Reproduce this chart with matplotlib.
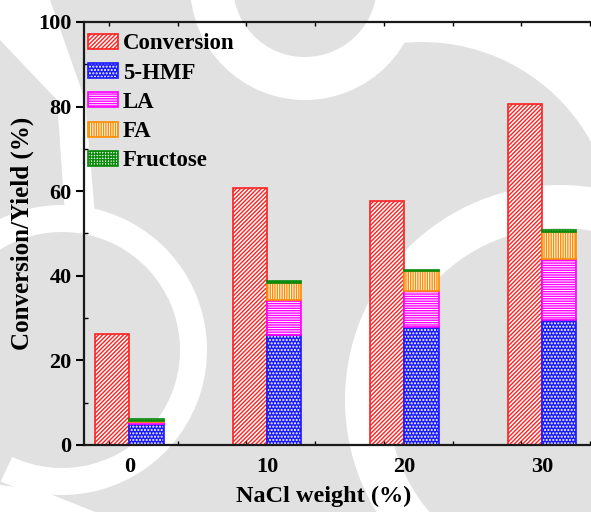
import matplotlib
matplotlib.use('Agg')
import matplotlib.pyplot as plt
from matplotlib.patches import Wedge, Polygon, Circle, Patch
import numpy as np

# NaCl loading and product distribution (%)
nacl = ['0', '10', '20', '30']
conversion = [26.2, 60.7, 57.6, 80.5]
hmf = [5.0, 25.9, 27.9, 29.5]
la = [0.4, 8.3, 8.6, 14.4]
fa = [0.2, 4.2, 4.6, 6.5]
fructose = [0.5, 0.4, 0.3, 0.4]

plt.rcParams['font.family'] = 'Liberation Serif'
plt.rcParams['font.weight'] = 'bold'
plt.rcParams['hatch.linewidth'] = 1.0

W, H = 591, 512
GRAY = '#e1e1e1'
fig = plt.figure(figsize=(W / 100, H / 100), dpi=100)
fig.patch.set_facecolor(GRAY)

# light watermark rings behind the plot, in pixel units
bg = fig.add_axes([0, 0, 1, 1], zorder=-1)
bg.set_xlim(0, W)
bg.set_ylim(H, 0)
bg.axis('off')
bg.add_patch(Wedge((422, 235), 420, -125, -15, width=227, color='white', lw=0))
bg.add_patch(Wedge((305, -15), 115, 0, 360, width=43, color='white', lw=0))
bg.add_patch(Circle((305, -15), 72, color=GRAY, lw=0))
bg.add_patch(Wedge((560, 400), 215, 0, 360, width=43, color='white', lw=0))
bg.add_patch(Wedge((62, 350), 145, -200, 115, width=27, color='white', lw=0))
bg.add_patch(Polygon([(0, 0), (50, 0), (85, 100), (95, 215), (65, 215), (57, 100), (0, 40)],
                     color='white', lw=0))
bg.add_patch(Polygon([(0, 485), (40, 490), (95, 512), (0, 512)], color='white', lw=0))

ax = fig.add_axes([84 / W, 1 - 445 / H, 513 / W, 423 / H])
ax.patch.set_alpha(0)

x = np.arange(len(nacl))
w = 0.25
red, blue, mag, orange, green = '#ff2020', '#1a1aff', '#ff00ff', '#ff8c00', '#0a8a0a'
h_conv, h_hmf, h_la, h_fa, h_fru = '////////', '.....', '-------', '|||||||', '++++++'

ax.bar(x - w, conversion, w, align='edge', facecolor='white', edgecolor=red,
       hatch=h_conv, linewidth=1.2)

b1 = np.array(hmf)
b2 = b1 + np.array(la)
b3 = b2 + np.array(fa)
ax.bar(x, hmf, w, align='edge', facecolor=blue, edgecolor='white', hatch=h_hmf, linewidth=0)
ax.bar(x, hmf, w, align='edge', fill=False, edgecolor=blue, linewidth=1.2)
ax.bar(x, la, w, bottom=b1, align='edge', facecolor='white', edgecolor=mag,
       hatch=h_la, linewidth=1.2)
ax.bar(x, fa, w, bottom=b2, align='edge', facecolor='white', edgecolor=orange,
       hatch=h_fa, linewidth=1.2)
ax.bar(x, fructose, w, bottom=b3, align='edge', facecolor='white', edgecolor=green,
       hatch=h_fru, linewidth=1.2)

ax.set_xlim(-0.33, 3.4)
ax.set_ylim(0, 100)
ax.set_xticks(x)
ax.set_xticklabels(nacl)
ax.set_yticks(np.arange(0, 101, 20))
ax.set_yticks(np.arange(10, 100, 20), minor=True)
ax.set_xticks(np.arange(-0.15, 3.4, 0.5), minor=True)
ax.tick_params(axis='x', which='major', length=0, pad=9, labelsize=16)
ax.tick_params(axis='x', which='minor', direction='in', length=3, top=True, width=1)
ax.tick_params(axis='y', which='major', direction='out', length=6, width=1.5, labelsize=16, pad=3)
ax.tick_params(axis='y', which='minor', direction='in', length=3, width=1)
for s in ['left', 'bottom', 'top']:
    ax.spines[s].set_linewidth(1.6)
    ax.spines[s].set_color('#1a1a1a')
ax.spines['right'].set_visible(False)

ax.set_xlabel('NaCl weight (%)', fontsize=17.5, fontweight='bold')
ax.xaxis.set_label_coords(0.468, -0.097)
ax.set_ylabel('Conversion/Yield (%)', fontsize=18, fontweight='bold')
ax.yaxis.set_label_coords(-0.097, 0.5)

handles = [
    Patch(facecolor='white', edgecolor=red, hatch=h_conv, linewidth=1.2),
    (Patch(facecolor=blue, edgecolor='white', hatch=h_hmf, linewidth=0),
     Patch(fill=False, edgecolor=blue, linewidth=1.2)),
    Patch(facecolor='white', edgecolor=mag, hatch=h_la, linewidth=1.2),
    Patch(facecolor='white', edgecolor=orange, hatch=h_fa, linewidth=1.2),
    Patch(facecolor='white', edgecolor=green, hatch=h_fru, linewidth=1.2),
]
labels = ['Conversion', '5-HMF', 'LA', 'FA', 'Fructose']
ax.legend(handles, labels, loc='upper left', bbox_to_anchor=(-0.014, 1.0),
          frameon=False, fontsize=16.5,
          handlelength=1.3, handleheight=0.62, handletextpad=0.22,
          labelspacing=0.36, borderaxespad=0.3, borderpad=0.2)

fig.savefig('out.png', dpi=100, facecolor=fig.get_facecolor())
